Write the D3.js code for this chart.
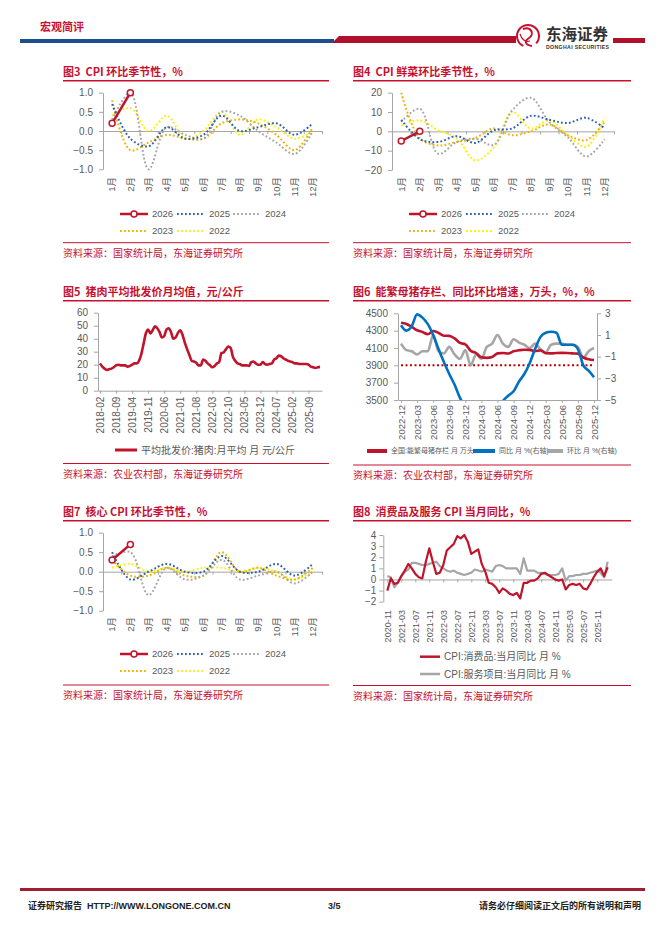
<!DOCTYPE html>
<html><head><meta charset="utf-8">
<script src="https://cdn.jsdelivr.net/npm/d3@7/dist/d3.min.js"></script>
<style>html,body{margin:0;padding:0;background:#fff;}svg{display:block;}</style>
</head><body>
<script>
// ================= DATA =================
const monthLabels = ["1月","2月","3月","4月","5月","6月","7月","8月","9月","10月","11月","12月"];
const seasonYears = ["2026","2025","2024","2023","2022"];

// 图3 CPI 环比季节性 (%)
const cpiMom2026 = [0.2, 1.0];
const cpiMom2025 = [0.7,-0.2,-0.4,0.1,-0.2,-0.1,0.4,0.0,0.1,0.2,-0.1,0.2];
const cpiMom2024 = [0.3,1.0,-1.0,0.1,-0.1,-0.2,0.5,0.4,0.0,-0.3,-0.6,0.0];
const cpiMom2023 = [0.8,-0.5,-0.3,-0.1,-0.2,-0.2,0.2,0.3,0.2,-0.1,-0.5,0.1];
const cpiMom2022 = [0.4,0.6,0.0,0.4,-0.2,0.0,0.5,-0.1,0.3,0.1,-0.2,0.0];
const cpiMomTicks = [-1,-0.5,0,0.5,1];

// 图4 CPI 鲜菜环比季节性 (%)
const vegMom2026 = [-5, 0];
const vegMom2025 = [6,-4,-5.5,-2.5,-6,0.5,1.5,8,6,4.3,7,1.5];
const vegMom2024 = [4.8,11.7,-11.6,-5.5,-3.8,-7,10.9,17.4,4.8,-3,-13,-4];
const vegMom2023 = [20,-3.6,-7.3,-5.5,-3.5,1.5,-2,0,3.6,-2,-4.6,5];
const vegMom2022 = [3,5.7,0.5,-3.6,-15,-8.3,10,1.5,5.7,-2,-8,7];
const vegMomTicks = [-20,-10,0,10,20];

// 图5 猪肉平均批发价月均值 (元/公斤), 2018-02 .. 2026-02
const porkStart = "2018-02";
const porkPrice = [
  21,18.5,17,16,16.5,17,18,19.5,20,19.5,19.5,
  19.5,18.5,19,20,21,21,23,28,36,44,47,44,
  46.5,49.5,48,45,41,42,47,48,45,40,41,44.5,
  46.5,43,37,32,27.5,23,22.5,21.5,19.5,19.5,24,23,
  21,19.5,18,19,21,22,29,29.5,32,34,33,26,
  23,21,20.5,19.5,19.5,19.5,19,22,22.5,21,20,20,
  22,20.5,20,20.5,21,24,25,27,26.5,25,24,23,
  22.5,22,21,21,20.5,20.5,20.5,20.5,20,18.5,18,17.5,
  18,18.3];
const porkTickLabels = ["2018-02","2018-09","2019-04","2019-11","2020-06","2021-01","2021-08","2022-03","2022-10","2023-05","2023-12","2024-07","2025-02","2025-09"];
const porkTicks = [0,10,20,30,40,50,60];

// 图6 能繁母猪存栏(万头)、同比、环比(%), 2022-12 .. 2025-12
const sowStart = "2022-12";
const sowStock = [4390,4376,4343,4305,4284,4258,4296,4274,4241,4240,4210,4158,4142,4067,4042,3992,3986,3996,4038,4042,4036,4062,4073,4080,4078,4062,4072,4039,4038,4042,4043,4042,4038,4035,3990,3970,3961];
const sowYoy = [1.9,1.4,1.8,2.9,2.6,2.0,1.0,-0.3,-1.5,-2.6,-3.6,-4.8,-5.7,-7.3,-7.6,-8.0,-7.8,-6.9,-5.9,-5.1,-4.6,-4.2,-3.3,-2.6,-1.6,-0.3,0.8,1.2,1.3,1.2,0.1,0.1,0.1,-0.3,-1.8,-2.3,-2.9];
const sowMom = [0.2,-0.4,-0.5,-0.8,-0.5,-0.5,1.0,-0.5,-0.7,-0.1,-0.8,-1.2,-0.4,-1.8,-0.8,-1.2,-0.1,0.2,1.0,0.2,-0.1,0.6,0.3,0.1,-0.2,0.2,-0.3,-0.6,0.1,0.2,0.2,0.1,0.1,-0.1,-1.1,-0.5,-0.2];
const sowRefLevel = 3900;
const sowTickLabels = ["2022-12","2023-03","2023-06","2023-09","2023-12","2024-03","2024-06","2024-09","2024-12","2025-03","2025-06","2025-09","2025-12"];
const sowLeftTicks = [3500,3700,3900,4100,4300,4500];
const sowRightTicks = [-5,-3,-1,1,3];

// 图7 核心 CPI 环比季节性 (%)
const coreMom2026 = [0.3, 0.7];
const coreMom2025 = [0.5,-0.2,0.0,0.2,0.0,0.0,0.4,0.0,0.0,0.2,-0.1,0.2];
const coreMom2024 = [0.4,0.5,-0.6,0.1,-0.2,-0.1,0.3,-0.2,-0.1,0.0,-0.3,0.0];
const coreMom2023 = [0.3,-0.1,-0.1,0.1,-0.1,-0.1,0.5,0.0,0.1,-0.1,-0.2,0.1];
const coreMom2022 = [0.1,0.2,0.0,0.1,0.0,0.1,0.1,0.0,0.1,0.0,-0.2,0.0];

// 图8 消费品及服务 CPI 当月同比 (%), 2020-11 .. 2026-02
const cpiYoyStart = "2020-11";
const goodsCpiYoy = [-1.0,0.1,-0.4,-0.3,0.3,0.8,1.4,1.0,0.5,0.2,0.1,1.6,2.8,1.6,0.5,0.6,1.3,2.6,2.9,3.2,3.9,3.7,4.0,3.4,2.3,2.5,2.7,1.4,0.7,-0.3,-0.4,-0.7,-1.2,-0.8,-1.0,-1.3,-1.4,-1.2,-1.7,-0.3,-0.3,-0.1,-0.1,0.1,0.5,0.6,0.4,0.2,0.0,-0.1,0.0,-0.9,-0.5,-0.4,-0.5,-0.4,-0.8,-0.9,-0.4,0.2,0.7,1.0,0.3,1.1];
const servCpiYoy = [0.3,0.2,-0.7,-0.3,0.3,0.7,0.9,1.5,1.5,1.4,1.3,1.3,1.4,1.5,1.6,1.2,1.0,0.8,0.7,0.8,0.6,0.5,0.4,0.5,0.6,0.9,0.8,0.7,0.9,0.8,0.7,1.2,1.3,1.2,1.0,1.0,1.0,1.0,0.5,1.9,0.8,0.8,0.8,0.6,0.6,0.5,0.4,0.4,0.4,0.5,1.0,-0.1,0.3,0.3,0.4,0.4,0.5,0.5,0.6,0.7,0.8,0.6,0.2,1.6];
const cpiYoyTickLabels = ["2020-11","2021-03","2021-07","2021-11","2022-03","2022-07","2022-11","2023-03","2023-07","2023-11","2024-03","2024-07","2024-11","2025-03","2025-07","2025-11"];
const cpiYoyTicks = [-2,-1,0,1,2,3,4];

// ================= STYLE =================
const FONT = '"Liberation Sans","Noto Sans CJK SC",sans-serif';
const CJK = '"Noto Sans CJK SC","Liberation Sans",sans-serif';
const TRED = "#C8102E";
const LRED = "#C0142C";
const AXIS = "#A6A6A6";
const LBL = "#595959";
const yearStyle = {
  "2026": {color: LRED, dotted: false},
  "2025": {color: "#2F62AE", dotted: true},
  "2024": {color: "#A6A6A6", dotted: true},
  "2023": {color: "#EDB400", dotted: true},
  "2022": {color: "#FFF000", dotted: true}
};
const DOTS = "1.8,2.2";

function monthSeq(start, n) {
  let [yy, mm] = start.split("-").map(Number);
  const out = [];
  for (let i = 0; i < n; i++) {
    out.push(yy + "-" + String(mm).padStart(2, "0"));
    mm++; if (mm > 12) { mm = 1; yy++; }
  }
  return out;
}

const svg = d3.select("body").append("svg").attr("width", 662).attr("height", 936);

function styleAxis(sel, fs) {
  sel.attr("font-family", FONT).attr("font-size", fs || 10);
  sel.selectAll("path,line").attr("stroke", AXIS).attr("stroke-width", 1);
  sel.selectAll("text").attr("fill", LBL);
}

function frame(x, xr, titleY, title, srcLineY, src) {
  svg.append("text").attr("x", x).attr("y", titleY).attr("font-family", CJK)
    .attr("font-weight", "bold").attr("font-size", 11).attr("fill", TRED)
    .style("white-space", "pre").text(title);
  svg.append("line").attr("x1", x).attr("x2", xr).attr("y1", titleY + 5).attr("y2", titleY + 5)
    .attr("stroke", TRED).attr("stroke-width", 1.5);
  svg.append("line").attr("x1", x).attr("x2", xr).attr("y1", srcLineY).attr("y2", srcLineY)
    .attr("stroke", TRED).attr("stroke-width", 1);
  svg.append("text").attr("x", x).attr("y", srcLineY + 14).attr("font-family", CJK)
    .attr("font-size", 10).attr("fill", TRED).text(src);
}

function rotLabels(axisSel, offset) {
  axisSel.selectAll("text").attr("x", -offset).attr("y", 0).attr("dy", "0.35em")
    .attr("transform", "rotate(-90)").attr("text-anchor", "end");
}

function legendItem(x, y, len, color, width, dotted, marker, label, fs) {
  const g = svg.append("g");
  g.append("line").attr("x1", x).attr("x2", x + len).attr("y1", y).attr("y2", y)
    .attr("stroke", color).attr("stroke-width", width)
    .attr("stroke-dasharray", dotted ? DOTS : null);
  if (marker) g.append("circle").attr("cx", x + len / 2).attr("cy", y).attr("r", 3)
    .attr("fill", "#fff").attr("stroke", color).attr("stroke-width", 1.5);
  g.append("text").attr("x", x + len + 4).attr("y", y).attr("dy", "0.35em")
    .attr("font-family", FONT).attr("font-size", fs || 9.5).attr("fill", LBL).text(label);
}

function seasonChart(cfg) {
  const g = svg.append("g");
  const x = d3.scaleBand().domain(monthLabels).range([cfg.x0, cfg.x1]);
  const y = d3.scaleLinear().domain([cfg.ticks[0], cfg.ticks[cfg.ticks.length - 1]]).range([cfg.yB, cfg.yT]);
  const ya = g.append("g").attr("transform", `translate(${cfg.x0},0)`)
    .call(d3.axisLeft(y).tickValues(cfg.ticks).tickFormat(d3.format(cfg.fmt)).tickSize(4).tickSizeOuter(0).tickPadding(6));
  styleAxis(ya, 10);
  const xl = d3.scaleLinear().domain([0, 12]).range([cfg.x0, cfg.x1]);
  const za = g.append("g").attr("transform", `translate(0,${y(0)})`)
    .call(d3.axisBottom(xl).tickValues(d3.range(0, 13)).tickFormat("").tickSize(3).tickSizeOuter(0));
  styleAxis(za);
  const la = g.append("g").attr("transform", `translate(0,${cfg.labelTop})`)
    .call(d3.axisBottom(x).tickSize(0));
  la.select(".domain").remove();
  styleAxis(la, 9.5);
  rotLabels(la, 0);
  const line = d3.line()
    .x((d, i) => x(monthLabels[i]) + x.bandwidth() / 2)
    .y(d => y(d))
    .curve(d3.curveCatmullRom.alpha(0.5));
  ["2022", "2023", "2024", "2025"].forEach(yr => {
    g.append("path").attr("d", line(cfg.data[yr])).attr("fill", "none")
      .attr("stroke", yearStyle[yr].color).attr("stroke-width", 2)
      .attr("stroke-dasharray", DOTS);
  });
  const d26 = cfg.data["2026"];
  g.append("path").attr("d", line(d26)).attr("fill", "none")
    .attr("stroke", yearStyle["2026"].color).attr("stroke-width", 2.5);
  g.selectAll("circle.m").data(d26).enter().append("circle")
    .attr("cx", (d, i) => x(monthLabels[i]) + x.bandwidth() / 2).attr("cy", d => y(d)).attr("r", 3)
    .attr("fill", "#fff").attr("stroke", yearStyle["2026"].color).attr("stroke-width", 1.5);
  const lx = cfg.x0 + 17, ly = cfg.legendY;
  const pos = [[lx, ly], [lx + 57, ly], [lx + 113, ly], [lx, ly + 17], [lx + 57, ly + 17]];
  seasonYears.forEach((yr, i) => {
    legendItem(pos[i][0], pos[i][1], 28, yearStyle[yr].color, yr === "2026" ? 2.5 : 2,
      yearStyle[yr].dotted, yr === "2026", yr, 9.5);
  });
}

// ================= HEADER / FOOTER =================
(function header() {
  svg.append("text").attr("x", 40).attr("y", 31).attr("font-family", CJK).attr("font-weight", "bold")
    .attr("font-size", 11).attr("fill", TRED).text("宏观简评");
  svg.append("rect").attr("x", 20).attr("y", 39).attr("width", 314).attr("height", 4).attr("fill", "#1F4E8C");
  svg.append("path").attr("d", "M332,43 L339,36 L516,36 L516,43 Z").attr("fill", "#B0102A");
  svg.append("rect").attr("x", 613).attr("y", 38).attr("width", 32).attr("height", 5).attr("fill", "#B0102A");
  const lg = svg.append("g").attr("transform", "translate(528,36)");
  lg.append("path").attr("d", d3.arc().innerRadius(10).outerRadius(12).startAngle(-2.7).endAngle(2.3)())
    .attr("fill", "#C8102E");
  lg.append("path").attr("d", "M-5,-7 C3,-10 7,-2 1,2 C-4,5 -3,9 4,10").attr("fill", "none")
    .attr("stroke", "#C8102E").attr("stroke-width", 2);
  lg.append("path").attr("d", "M-8,-2 C-6,4 -2,6 2,5").attr("fill", "none")
    .attr("stroke", "#C8102E").attr("stroke-width", 1.2);
  svg.append("text").attr("x", 546).attr("y", 40).attr("font-family", CJK).attr("font-weight", "bold")
    .attr("font-size", 15.5).attr("fill", "#333").text("东海证券");
  svg.append("text").attr("x", 546).attr("y", 48.5).attr("font-family", FONT).attr("font-weight", "bold")
    .attr("font-size", 5.2).attr("fill", "#333").attr("textLength", 63).text("DONGHAI SECURITIES");
})();
(function footer() {
  svg.append("line").attr("x1", 20).attr("x2", 645).attr("y1", 889.5).attr("y2", 889.5)
    .attr("stroke", "#A01E32").attr("stroke-width", 3);
  const t = (x, s, anchor, fam) => svg.append("text").attr("x", x).attr("y", 909)
    .attr("font-family", fam).attr("font-weight", "bold").attr("font-size", 9)
    .attr("fill", "#222").attr("text-anchor", anchor).text(s);
  t(28, "证券研究报告", "start", CJK);
  t(87, "HTTP://WWW.LONGONE.COM.CN", "start", FONT);
  t(328, "3/5", "start", FONT);
  t(641, "请务必仔细阅读正文后的所有说明和声明", "end", CJK);
})();

// ================= 图3 =================
frame(63, 329, 75.7, "图3  CPI 环比季节性，%", 242.7, "资料来源：国家统计局，东海证券研究所");
seasonChart({x0: 103, x1: 322, yB: 169.3, yT: 92.7, ticks: cpiMomTicks, fmt: ".1f", labelTop: 177, legendY: 214,
  data: {"2026": cpiMom2026, "2025": cpiMom2025, "2024": cpiMom2024, "2023": cpiMom2023, "2022": cpiMom2022}});

// ================= 图4 =================
frame(353, 631, 75.7, "图4  CPI 鲜菜环比季节性，%", 242.7, "资料来源：国家统计局，东海证券研究所");
seasonChart({x0: 392, x1: 614, yB: 170, yT: 92.7, ticks: vegMomTicks, fmt: "d", labelTop: 177, legendY: 214,
  data: {"2026": vegMom2026, "2025": vegMom2025, "2024": vegMom2024, "2023": vegMom2023, "2022": vegMom2022}});

// ================= 图7 =================
frame(63, 329, 515.7, "图7  核心 CPI 环比季节性，%", 685, "资料来源：国家统计局，东海证券研究所");
seasonChart({x0: 103, x1: 322, yB: 610.7, yT: 532.7, ticks: cpiMomTicks, fmt: ".1f", labelTop: 617, legendY: 654,
  data: {"2026": coreMom2026, "2025": coreMom2025, "2024": coreMom2024, "2023": coreMom2023, "2022": coreMom2022}});

// ================= 图5 =================
frame(63, 329, 295.7, "图5  猪肉平均批发价月均值，元/公斤", 463.5, "资料来源：农业农村部，东海证券研究所");
(function () {
  const months = monthSeq(porkStart, porkPrice.length);
  const x = d3.scalePoint().domain(months).range([98, 322]).padding(0.875);
  const y = d3.scaleLinear().domain([0, 60]).range([390.7, 312.7]);
  const g = svg.append("g");
  const ya = g.append("g").attr("transform", "translate(98,0)")
    .call(d3.axisLeft(y).tickValues(porkTicks).tickFormat(d3.format("d")).tickSize(4).tickSizeOuter(0).tickPadding(6));
  styleAxis(ya, 10);
  const xa = g.append("g").attr("transform", `translate(0,${y(0)})`)
    .call(d3.axisBottom(x).tickValues(porkTickLabels).tickSize(3).tickSizeOuter(0));
  styleAxis(xa, 10);
  rotLabels(xa, 6);
  g.append("path").attr("d", d3.line().x((d, i) => x(months[i])).y(d => y(d)).curve(d3.curveMonotoneX)(porkPrice))
    .attr("fill", "none").attr("stroke", LRED).attr("stroke-width", 2.6).attr("stroke-linejoin", "round");
  legendItem(115, 450, 22, LRED, 3, false, false, "平均批发价:猪肉:月平均 月 元/公斤", 10);
})();

// ================= 图6 =================
frame(353, 631, 295.7, "图6  能繁母猪存栏、同比环比增速，万头，%，%", 465, "资料来源：农业农村部，东海证券研究所");
(function () {
  const months = monthSeq(sowStart, sowStock.length);
  const x = d3.scalePoint().domain(months).range([398, 597]).padding(0.56);
  const yL = d3.scaleLinear().domain([3500, 4500]).range([400, 313.3]);
  const yR = d3.scaleLinear().domain([-5, 3]).range([400, 313.3]);
  const g = svg.append("g");
  g.append("clipPath").attr("id", "clip6").append("rect")
    .attr("x", 390).attr("y", yR(3) - 4).attr("width", 220).attr("height", yR(-5) - yR(3) + 4);
  const al = g.append("g").attr("transform", "translate(398,0)")
    .call(d3.axisLeft(yL).tickValues(sowLeftTicks).tickFormat(d3.format("d")).tickSize(4).tickSizeOuter(0).tickPadding(6));
  styleAxis(al, 10);
  const ar = g.append("g").attr("transform", "translate(597,0)")
    .call(d3.axisRight(yR).tickValues(sowRightTicks).tickFormat(d3.format("d")).tickSize(4).tickSizeOuter(0).tickPadding(4));
  styleAxis(ar, 10);
  const xa = g.append("g").attr("transform", `translate(0,${yL(3500)})`)
    .call(d3.axisBottom(x).tickValues(sowTickLabels).tickSize(3).tickSizeOuter(0));
  styleAxis(xa, 9.5);
  rotLabels(xa, 5);
  const first = x(months[0]), last = x(months[months.length - 1]);
  g.append("line").attr("x1", first).attr("x2", last).attr("y1", yL(sowRefLevel)).attr("y2", yL(sowRefLevel))
    .attr("stroke", "#C00000").attr("stroke-width", 2).attr("stroke-dasharray", "2,2.5");
  const lx = (d, i) => x(months[i]);
  g.append("path").attr("d", d3.line().x(lx).y(d => yR(d)).curve(d3.curveMonotoneX)(sowMom))
    .attr("fill", "none").attr("stroke", "#A6A6A6").attr("stroke-width", 2.6);
  g.append("path").attr("d", d3.line().x(lx).y(d => yL(d)).curve(d3.curveMonotoneX)(sowStock))
    .attr("fill", "none").attr("stroke", LRED).attr("stroke-width", 2.6);
  g.append("path").attr("d", d3.line().x(lx).y(d => yR(d)).curve(d3.curveMonotoneX)(sowYoy))
    .attr("clip-path", "url(#clip6)")
    .attr("fill", "none").attr("stroke", "#0070C0").attr("stroke-width", 2.6);
  legendItem(367, 451, 20, LRED, 4, false, false, "全国:能繁母猪存栏 月 万头", 7);
  legendItem(473, 451, 22, "#0070C0", 4, false, false, "同比 月 %(右轴)", 7);
  legendItem(547, 451, 16, "#A6A6A6", 4, false, false, "环比 月 %(右轴)", 7);
})();

// ================= 图8 =================
frame(353, 631, 515.7, "图8  消费品及服务 CPI 当月同比，%", 685.5, "资料来源：国家统计局，东海证券研究所");
(function () {
  const months = monthSeq(cpiYoyStart, goodsCpiYoy.length);
  const x = d3.scalePoint().domain(months).range([383.3, 611.7]).padding(1.15);
  const y = d3.scaleLinear().domain([-2, 4]).range([601.7, 535]);
  const g = svg.append("g");
  const ya = g.append("g").attr("transform", "translate(383.3,0)")
    .call(d3.axisLeft(y).tickValues(cpiYoyTicks).tickFormat(d3.format("d")).tickSize(4).tickSizeOuter(0).tickPadding(3));
  styleAxis(ya, 10);
  const za = g.append("g").attr("transform", `translate(0,${y(0)})`)
    .call(d3.axisBottom(x).tickValues(cpiYoyTickLabels).tickFormat("").tickSize(3).tickSizeOuter(0));
  styleAxis(za);
  const la = g.append("g").attr("transform", "translate(0,610)")
    .call(d3.axisBottom(x).tickValues(cpiYoyTickLabels).tickSize(0));
  la.select(".domain").remove();
  styleAxis(la, 9);
  rotLabels(la, 0);
  const lx = (d, i) => x(months[i]);
  g.append("path").attr("d", d3.line().x(lx).y(d => y(d))(servCpiYoy))
    .attr("fill", "none").attr("stroke", "#A6A6A6").attr("stroke-width", 2.2).attr("stroke-linejoin", "round");
  g.append("path").attr("d", d3.line().x(lx).y(d => y(d))(goodsCpiYoy))
    .attr("fill", "none").attr("stroke", LRED).attr("stroke-width", 2.2).attr("stroke-linejoin", "round");
  legendItem(420, 656.7, 20, LRED, 2.5, false, false, "CPI:消费品:当月同比 月 %", 10);
  legendItem(420, 674, 20, "#A6A6A6", 2.5, false, false, "CPI:服务项目:当月同比 月 %", 10);
})();
</script>
</body></html>
